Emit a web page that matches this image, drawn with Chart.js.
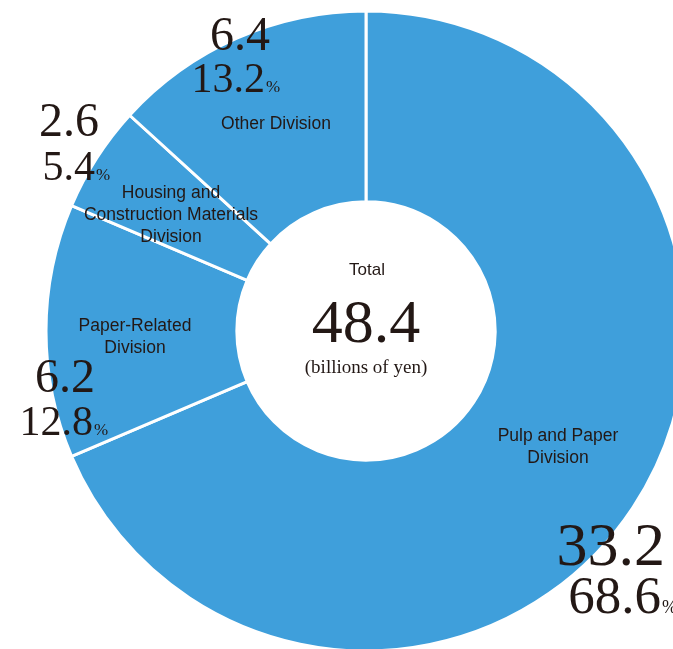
<!DOCTYPE html>
<html>
<head>
<meta charset="utf-8">
<script src="https://cdn.jsdelivr.net/npm/chart.js@4.4.0/dist/chart.umd.min.js"></script>
<style>
  html, body { margin: 0; padding: 0; background: #fff; overflow: hidden; }
  body { width: 673px; height: 649px; position: relative; }
  #sales { position: absolute; left: 0; top: 0; }
</style>
</head>
<body>
<canvas id="sales" width="732" height="662"></canvas>
<script>
// Sales by division (billions of yen)
const divisions = [
  ['Pulp and Paper', 'Division'],
  ['Paper-Related', 'Division'],
  ['Housing and', 'Construction Materials', 'Division'],
  ['Other Division']
];
const sales = [33.2, 6.2, 2.6, 6.4];
const totalCaption = 'Total';
const unitCaption = '(billions of yen)';

const total = sales.reduce((a, b) => a + b, 0);
const shares = sales.map(v => (v / total * 100).toFixed(1));

const INK = '#231815';
const BLUE = '#3f9fdb';
const SERIF = '"Liberation Serif", "DejaVu Serif", serif';
const SANS = '"Liberation Sans", Arial, sans-serif';

// where each division's name and figures sit on the page
const labelLayout = [
  { name: [558, 436], vx: 665, vy: 565, vSize: 62, px: 661, py: 613, pSize: 53, pcSize: 18 },
  { name: [135, 326], vx: 95, vy: 392, vSize: 48, px: 93, py: 435, pSize: 42, pcSize: 17 },
  { name: [171, 193], vx: 99, vy: 136, vSize: 48, px: 95, py: 180, pSize: 42, pcSize: 17 },
  { name: [276, 124], vx: 270, vy: 50, vSize: 48, px: 265, py: 92, pSize: 42, pcSize: 17 }
];

const labelsPlugin = {
  id: 'divisionLabels',
  afterDraw(chart) {
    const ctx = chart.ctx;
    const arc = chart.getDatasetMeta(0).data[0];
    const cx = arc.x, cy = arc.y;
    ctx.save();
    ctx.fillStyle = INK;

    // centre caption
    ctx.textAlign = 'center';
    ctx.textBaseline = 'middle';
    ctx.font = '17px ' + SANS;
    ctx.fillText(totalCaption, cx + 1, 270);
    ctx.textBaseline = 'alphabetic';
    ctx.font = '62px ' + SERIF;
    ctx.fillText(total.toFixed(1), cx, 342);
    ctx.textBaseline = 'middle';
    ctx.font = '19px ' + SERIF;
    ctx.fillText(unitCaption, cx, 368);

    divisions.forEach((lines, i) => {
      const L = labelLayout[i];
      // division name
      ctx.textAlign = 'center';
      ctx.textBaseline = 'middle';
      ctx.font = '17.5px ' + SANS;
      lines.forEach((t, j) => ctx.fillText(t, L.name[0], L.name[1] + j * 22));

      // amount and share
      ctx.textBaseline = 'alphabetic';
      ctx.textAlign = 'right';
      ctx.font = L.vSize + 'px ' + SERIF;
      ctx.fillText(sales[i].toFixed(1), L.vx, L.vy);
      ctx.font = L.pSize + 'px ' + SERIF;
      ctx.fillText(shares[i], L.px, L.py);
      ctx.textAlign = 'left';
      ctx.font = L.pcSize + 'px ' + SERIF;
      ctx.fillText('%', L.px + 1, L.py);
    });
    ctx.restore();
  }
};

new Chart(document.getElementById('sales'), {
  type: 'doughnut',
  data: {
    labels: divisions.map(d => d.join(' ')),
    datasets: [{
      data: sales,
      backgroundColor: BLUE,
      borderColor: '#ffffff',
      borderWidth: 3
    }]
  },
  options: {
    responsive: false,
    animation: false,
    radius: 320,
    cutout: 133,
    layout: { padding: 0 },
    plugins: {
      legend: { display: false },
      tooltip: { enabled: false }
    }
  },
  plugins: [labelsPlugin]
});
</script>
</body>
</html>
